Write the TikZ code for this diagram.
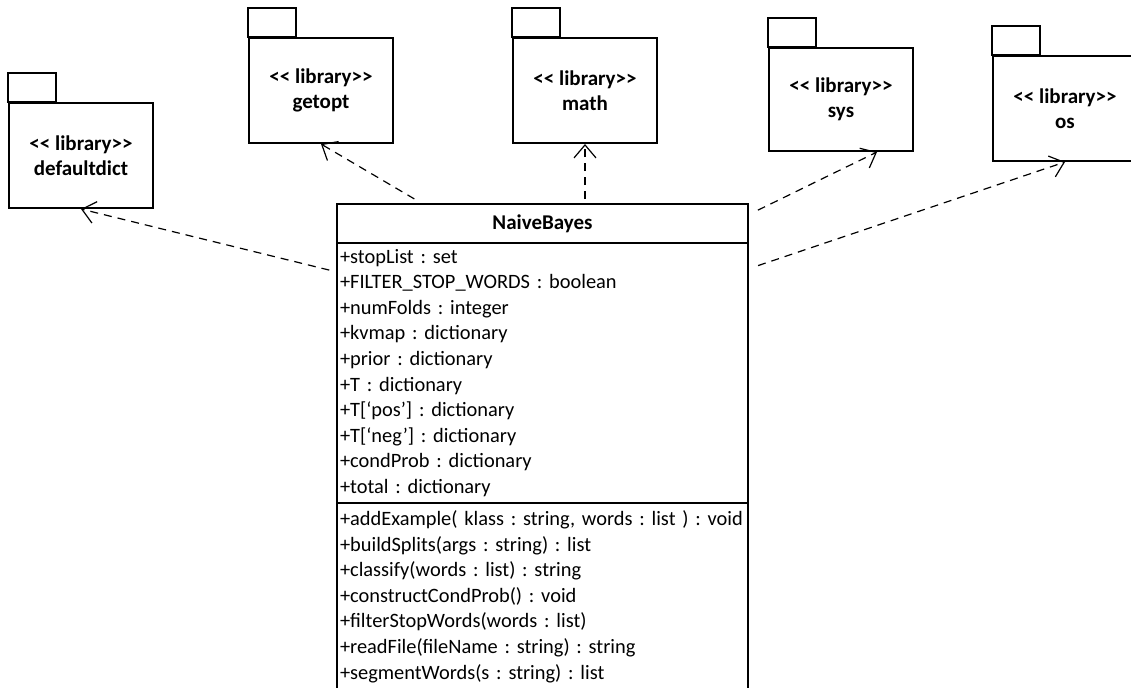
\documentclass[tikz,border=0pt]{standalone}
\usepackage{fontspec}
\setmainfont{Carlito}
\frenchspacing
\usetikzlibrary{positioning,arrows.meta}
\tikzset{
  pkg/.style={draw,line width=1pt,minimum width=72pt,minimum height=52.5pt,inner sep=2pt,align=center,font=\fontsize{10.5}{12.5}\selectfont\bfseries},
  clsbox/.style={draw,line width=1pt,outer sep=0pt,text width=202.5pt,inner xsep=1.5pt,inner ysep=1pt,font=\fontsize{10.2}{12.8}\selectfont},
  dep/.style={line width=0.6pt,dash pattern=on 4pt off 3pt,-{Straight Barb[length=6.5pt,width=11pt,line width=0.6pt]}}
}
\newcommand{\pkgtab}[1]{\draw[line width=1pt] (#1.north west) rectangle ++(24pt,14.5pt);}
\newcommand{\lib}{<{}< library>{}>}

\begin{document}
\begin{tikzpicture}[x=0.5pt,y=-0.5pt]
\useasboundingbox (0,0) rectangle (1131,687);

\node[pkg] (defaultdict) at (81,155.5) {\lib\\defaultdict};
\node[pkg] (getopt) at (321,90.5) {\lib\\getopt};
\node[pkg] (math) at (585,90.5) {\lib\\math};
\node[pkg,minimum height=51.5pt] (sys) at (841,99.5) {\lib\\sys};
\node[pkg] (os) at (1065,108.5) {\lib\\os};
\pkgtab{defaultdict}
\pkgtab{getopt}
\pkgtab{math}
\pkgtab{sys}
\pkgtab{os}

\node[clsbox,anchor=north west,minimum height=19.5pt,align=center,font=\fontsize{10.5}{12.8}\selectfont\bfseries] (cls) at (337,204) {NaiveBayes};
\node[clsbox,below=0pt of cls,minimum height=130pt,align=left] (attrs) {+stopList : set\\
+FILTER\_STOP\_WORDS : boolean\\
+numFolds : integer\\
+kvmap : dictionary\\
+prior : dictionary\\
+T : dictionary\\
+T[‘pos’] : dictionary\\
+T[‘neg’] : dictionary\\
+condProb : dictionary\\
+total : dictionary};
\node[clsbox,below=0pt of attrs,minimum height=93.5pt,align=left] (ops) {\mbox{+addExample( klass : string, words : list ) : void}\\
+buildSplits(args : string) : list\\
+classify(words : list) : string\\
+constructCondProb() : void\\
+filterStopWords(words : list)\\
+readFile(fileName : string) : string\\
+segmentWords(s : string) : list};

\draw[dep,shorten <=4pt] ([yshift=-14.5pt]attrs.north west) -- (defaultdict.south);
\draw[dep,shorten <=5pt] ([xshift=43pt]cls.north west) -- (getopt.south);
\draw[dep,shorten <=2.5pt] ([xshift=124pt]cls.north west) -- (math.south);
\draw[dep,shorten <=5.5pt] ([yshift=-5.5pt]cls.north east) -- ([xshift=18pt]sys.south);
\draw[dep,shorten <=5.3pt] ([yshift=-13pt]attrs.north east) -- (os.south);
\end{tikzpicture}
\end{document}
